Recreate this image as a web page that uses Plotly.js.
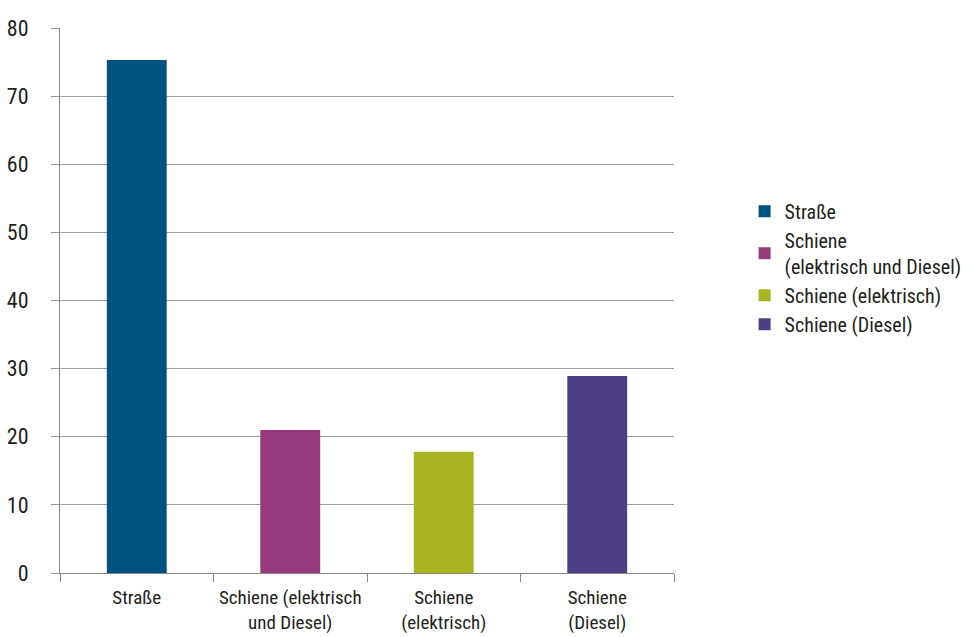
<!DOCTYPE html>
<html>
<head>
<meta charset="utf-8">
<script src="https://cdn.plot.ly/plotly-3.0.1.min.js"></script>
<style>html,body{margin:0;padding:0;background:#fff;}#chart{width:974px;height:637px;}</style>
</head>
<body>
<div id="chart"></div>
<script>
const categories = ["Straße", "Schiene (elektrisch und Diesel)", "Schiene (elektrisch)", "Schiene (Diesel)"];
const tickLabels = ["Straße", "Schiene (elektrisch<br>und Diesel)", "Schiene<br>(elektrisch)", "Schiene<br>(Diesel)"];
const legendNames = ["Straße", "Schiene<br>(elektrisch und Diesel)", "Schiene (elektrisch)", "Schiene (Diesel)"];
const values = [75.3, 21.0, 17.8, 28.9];
const colors = ["#005380", "#963a7e", "#a8b520", "#4e3f85"];

const font = "'Liberation Sans Narrow', 'Roboto Condensed', 'DejaVu Sans Condensed', sans-serif";

const traces = categories.map((c, i) => ({
  type: "bar",
  x: [c],
  y: [values[i]],
  name: legendNames[i],
  marker: {color: colors[i]},
  width: 0.39,
  hoverinfo: "x+y"
}));

const layout = {
  width: 974, height: 637,
  margin: {l: 60, r: 300, t: 28, b: 64, autoexpand: false},
  paper_bgcolor: "#fff", plot_bgcolor: "#fff",
  barmode: "overlay",
  font: {family: font, size: 20, color: "#231f20"},
  showlegend: true,
  legend: {x: 1.115, xanchor: "left", y: 0.56, yanchor: "middle", font: {size: 20}, tracegroupgap: 20, itemwidth: 30},
  xaxis: {
    type: "category",
    categoryorder: "array", categoryarray: categories,
    tickvals: categories, ticktext: tickLabels,
    tickson: "boundaries",
    tickangle: 0,
    tickfont: {size: 19},
    ticks: "outside", ticklen: 8, tickcolor: "#888",
    showline: true, linecolor: "#888", linewidth: 1,
    showgrid: false,
    ticklabelstandoff: 7,
    range: [-0.5, 3.5]
  },
  yaxis: {
    range: [0, 80], dtick: 10, tick0: 0,
    ticks: "outside", ticklen: 8, tickcolor: "#999",
    tickfont: {size: 22},
    showline: true, linecolor: "#888", linewidth: 1,
    showgrid: true, gridcolor: "#a0a0a0", gridwidth: 1,
    zeroline: false,
    ticklabelstandoff: 18
  }
};

Plotly.newPlot("chart", traces, layout, {displayModeBar: false, staticPlot: true});
</script>
</body>
</html>
